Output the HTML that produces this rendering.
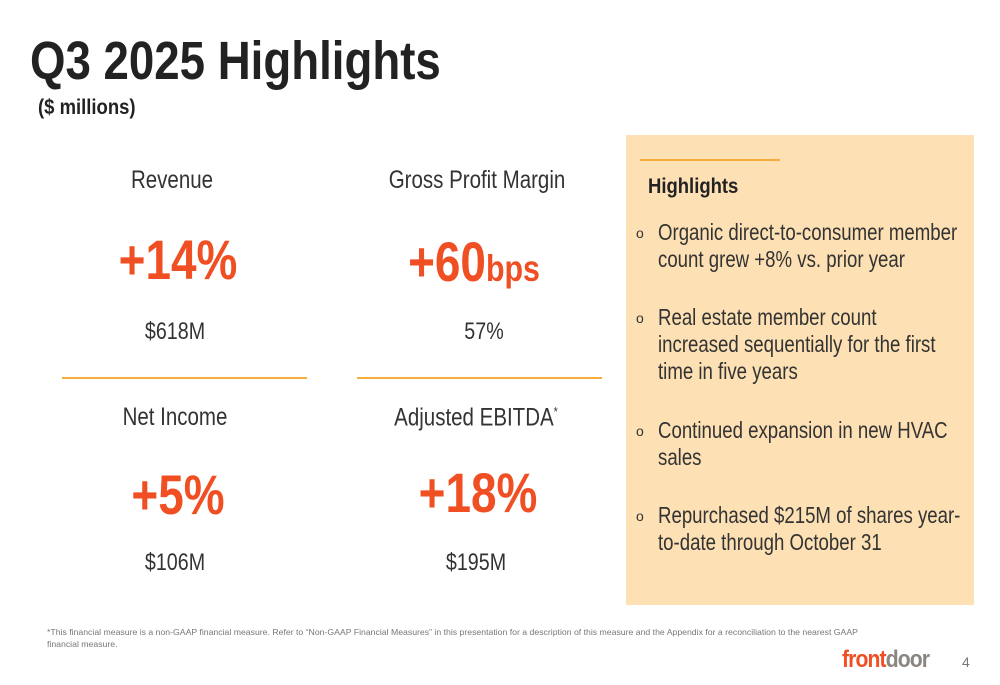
<!DOCTYPE html>
<html><head><meta charset="utf-8"><style>
body{margin:0;width:1000px;height:685px;background:#fff;position:relative;overflow:hidden;font-family:"Liberation Sans",Arial,sans-serif;color:#222}
.a{position:absolute;white-space:nowrap;line-height:1}
.c{transform:translateX(-50%) scaleX(.82);transform-origin:center}
.l{transform:scaleX(.82);transform-origin:left}
.big{font-weight:bold;font-size:56px;color:#f04e23}
.lab{font-size:25px;color:#333}
.val{font-size:24px;color:#333}
.bt{font-size:23px;color:#333}
.bl{font-size:14px;color:#333}
.hr{position:absolute;height:2px;background:#f6ad3c}
</style></head><body>
<div class="a l" style="left:30px;top:34px;font-size:54px;font-weight:bold;color:#222;transform:scaleX(.845)">Q3 2025 Highlights</div>
<div class="a l" style="left:38px;top:97px;font-size:21px;font-weight:bold;transform:scaleX(.88)">($ millions)</div>

<div class="a c lab" style="left:172px;top:168px">Revenue</div>
<div class="a c big" style="left:178px;top:232px">+14%</div>
<div class="a c val" style="left:175px;top:320px">$618M</div>
<div class="hr" style="left:62px;top:377px;width:245px"></div>
<div class="a c lab" style="left:175px;top:405px">Net Income</div>
<div class="a c big" style="left:178px;top:467px">+5%</div>
<div class="a c val" style="left:175px;top:551px">$106M</div>

<div class="a c lab" style="left:477px;top:168px">Gross Profit Margin</div>
<div class="a c big" style="left:474px;top:234px">+60<span style="font-size:37px">bps</span></div>
<div class="a c val" style="left:484px;top:320px">57%</div>
<div class="hr" style="left:357px;top:377px;width:245px"></div>
<div class="a c lab" style="left:476px;top:405px">Adjusted EBITDA<sup style="font-size:13px">*</sup></div>
<div class="a c big" style="left:478px;top:465px">+18%</div>
<div class="a c val" style="left:476px;top:551px">$195M</div>

<div style="position:absolute;left:626px;top:135px;width:348px;height:470px;background:#fde0b4">
<div class="hr" style="left:14px;top:24px;width:140px"></div>
<div class="a l" style="left:22px;top:41px;font-size:21px;font-weight:bold;color:#222;transform:scaleX(.88)">Highlights</div>
<div class="a bl" style="left:10px;top:91px">o</div>
<div class="a l bt" style="left:32px;top:84px;line-height:27px;transform:scaleX(.81)">Organic direct-to-consumer member<br>count grew +8% vs. prior year</div>
<div class="a bl" style="left:10px;top:176px">o</div>
<div class="a l bt" style="left:32px;top:169px;line-height:27px;transform:scaleX(.81)">Real estate member count<br>increased sequentially for the first<br>time in five years</div>
<div class="a bl" style="left:10px;top:289px">o</div>
<div class="a l bt" style="left:32px;top:282px;line-height:27px;transform:scaleX(.81)">Continued expansion in new HVAC<br>sales</div>
<div class="a bl" style="left:10px;top:374px">o</div>
<div class="a l bt" style="left:32px;top:367px;line-height:27px;transform:scaleX(.81)">Repurchased $215M of shares year-<br>to-date through October 31</div>
</div>

<div class="a" style="left:47px;top:626px;font-size:8.7px;line-height:12px;color:#777">*This financial measure is a non-GAAP financial measure. Refer to “Non-GAAP Financial Measures” in this presentation for a description of this measure and the Appendix for a reconciliation to the nearest GAAP<br>financial measure.</div>
<div class="a l" style="left:842px;top:648px;font-size:24px;font-weight:bold;letter-spacing:-1px;transform:scaleX(.88)"><span style="color:#f04e23">front</span><span style="color:#8a8580">door</span></div>
<div class="a" style="left:962px;top:655px;font-size:14px;color:#777">4</div>
</body></html>
